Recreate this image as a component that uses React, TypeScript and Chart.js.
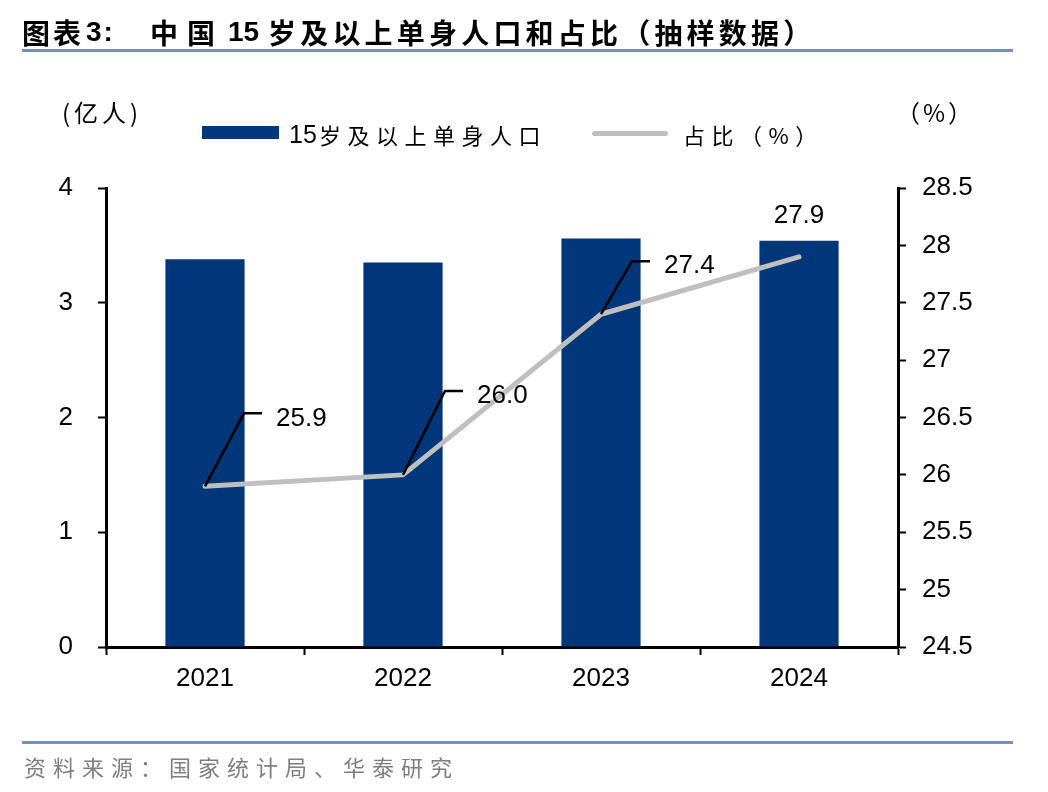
import React, { useEffect, useRef } from "react";
import { Chart, registerables } from "chart.js";

Chart.register(...registerables);

// ---- data ----
const categories = ["2021", "2022", "2023", "2024"];
const singlePopulation = [3.38, 3.35, 3.56, 3.54]; // 亿人
const singleShare = [25.9, 26.0, 27.4, 27.9]; // %
const leftAxisRange = [0, 4];
const leftAxisStep = 1;
const rightAxisRange = [24.5, 28.5];
const rightAxisStep = 0.5;
const seriesNames = ["15岁及以上单身人口", "占比（%）"];

// label leader layout (offsets relative to each point; null = plain label above)
const labelLeaders: ({ dx: number; dy: number; len: number } | null)[] = [
  { dx: 39, dy: -73, len: 18 },
  { dx: 42, dy: -84, len: 18 },
  { dx: 31, dy: -53, len: 18 },
  null,
];

const BAR_COLOR = "#00377a";
const LINE_COLOR = "#bfbfbf";
const RULE_COLOR = "#7391bc";
const LATIN = "'Liberation Sans', Arial, sans-serif";
const CJK = "'Noto Sans CJK SC', 'Noto Sans', sans-serif";

const leaderPlugin = {
  id: "leaderLabels",
  afterDatasetsDraw(chart: any) {
    const meta = chart.getDatasetMeta(1);
    const ctx = chart.ctx;
    ctx.save();
    ctx.font = `26px ${LATIN}`;
    ctx.fillStyle = "#000";
    ctx.strokeStyle = "#000";
    ctx.lineWidth = 2.5;
    ctx.lineCap = "butt";
    meta.data.forEach((pt: any, i: number) => {
      const text = singleShare[i].toFixed(1);
      const lead = labelLeaders[i];
      if (lead) {
        const ex = pt.x + lead.dx;
        const ey = pt.y + lead.dy;
        ctx.beginPath();
        ctx.moveTo(pt.x, pt.y);
        ctx.lineTo(ex, ey);
        ctx.lineTo(ex + lead.len, ey);
        ctx.stroke();
        ctx.textAlign = "left";
        ctx.textBaseline = "middle";
        ctx.fillText(text, ex + lead.len + 14, ey + 5);
      } else {
        ctx.textAlign = "center";
        ctx.textBaseline = "middle";
        ctx.fillText(text, pt.x, pt.y - 41);
      }
    });
    ctx.restore();
  },
};

type TProps = {
  x: number;
  cy: number;
  text: string;
  size: number;
  family: string;
  weight?: number;
  spacing?: number;
  color?: string;
};

function T({ x, cy, text, size, family, weight = 400, spacing = 0, color = "#000" }: TProps) {
  return (
    <div
      style={{
        position: "absolute",
        left: x,
        top: cy - size / 2,
        fontSize: size,
        lineHeight: `${size}px`,
        fontFamily: family,
        fontWeight: weight,
        letterSpacing: spacing,
        color,
        whiteSpace: "nowrap",
      }}
    >
      {text}
    </div>
  );
}

export default function App() {
  const ref = useRef<HTMLCanvasElement>(null);

  useEffect(() => {
    if (!ref.current) return;
    const chart = new Chart(ref.current, {
      type: "bar",
      data: {
        labels: categories,
        datasets: [
          {
            type: "bar",
            label: seriesNames[0],
            data: singlePopulation,
            backgroundColor: BAR_COLOR,
            yAxisID: "y",
            barPercentage: 0.4,
            categoryPercentage: 1,
            order: 2,
          } as any,
          {
            type: "line",
            label: seriesNames[1],
            data: singleShare,
            borderColor: LINE_COLOR,
            backgroundColor: LINE_COLOR,
            borderWidth: 5,
            pointRadius: 0,
            tension: 0,
            borderCapStyle: "round",
            borderJoinStyle: "round",
            yAxisID: "y1",
            order: 1,
          } as any,
        ],
      },
      options: {
        responsive: false,
        animation: false,
        devicePixelRatio: 1,
        layout: { padding: { top: 188, left: 0, right: 0, bottom: 0 } },
        plugins: {
          legend: { display: false },
          tooltip: { enabled: false },
          title: { display: false },
        },
        scales: {
          x: {
            grid: {
              display: true,
              drawOnChartArea: false,
              drawTicks: true,
              tickLength: 8,
              tickColor: "#000",
              tickWidth: 2,
              offset: true,
            },
            border: { display: true, color: "#000", width: 3 },
            ticks: {
              color: "#000",
              font: { family: LATIN, size: 26 },
              padding: 8,
            },
            afterFit: (s: any) => {
              s.height = 145;
            },
          },
          y: {
            position: "left",
            min: leftAxisRange[0],
            max: leftAxisRange[1],
            ticks: {
              stepSize: leftAxisStep,
              color: "#000",
              font: { family: LATIN, size: 26 },
              padding: 25,
            },
            grid: {
              drawOnChartArea: false,
              drawTicks: true,
              tickLength: 8,
              tickColor: "#000",
              tickWidth: 2,
            },
            border: { display: true, color: "#000", width: 3 },
            afterFit: (s: any) => {
              s.width = 106;
            },
          },
          y1: {
            position: "right",
            min: rightAxisRange[0],
            max: rightAxisRange[1],
            ticks: {
              stepSize: rightAxisStep,
              color: "#000",
              font: { family: LATIN, size: 26 },
              padding: 16,
              callback: (v: any) => String(Math.round(Number(v) * 10) / 10),
            },
            grid: {
              drawOnChartArea: false,
              drawTicks: true,
              tickLength: 8,
              tickColor: "#000",
              tickWidth: 2,
            },
            border: { display: true, color: "#000", width: 3 },
            afterFit: (s: any) => {
              s.width = 150;
            },
          },
        },
      } as any,
      plugins: [leaderPlugin],
    });
    return () => chart.destroy();
  }, []);

  return (
    <div
      style={{
        position: "absolute",
        left: 0,
        top: 0,
        width: 1048,
        height: 792,
        background: "#fff",
        overflow: "hidden",
      }}
    >
      <canvas
        ref={ref}
        width={1048}
        height={792}
        style={{ position: "absolute", left: 0, top: 0, width: 1048, height: 792 }}
      />
      {/* title */}
      <T x={22} cy={32} text="图表" size={28} family={CJK} weight={700} spacing={3} />
      <T x={86} cy={32} text="3:" size={28} family={LATIN} weight={700} spacing={2} />
      <T x={150} cy={32} text="中" size={28} family={CJK} weight={700} />
      <T x={187} cy={32} text="国" size={28} family={CJK} weight={700} />
      <T x={228} cy={32} text="15" size={28} family={LATIN} weight={700} />
      <T x={268} cy={32} text="岁及以上单身人口和占比（抽样数据）" size={28} family={CJK} weight={700} spacing={4.2} />
      <div style={{ position: "absolute", left: 22, top: 49, width: 991, height: 3, background: RULE_COLOR }} />

      {/* unit labels */}
      <T x={62} cy={112} text="(亿人)" size={24} family={CJK} spacing={4} />
      <T x={896} cy={112} text="（%）" size={24} family={CJK} spacing={3} />

      {/* legend */}
      <div style={{ position: "absolute", left: 202, top: 126, width: 77, height: 13, background: BAR_COLOR }} />
      <T x={289} cy={134} text="15" size={25} family={LATIN} />
      <T x={319} cy={134} text="岁及以上单身人口" size={22} family={CJK} spacing={6.5} />
      <div style={{ position: "absolute", left: 592, top: 131, width: 76, height: 5, borderRadius: 2.5, background: LINE_COLOR }} />
      <T x={683} cy={134} text={seriesNames[1]} size={22} family={CJK} spacing={6.5} />

      {/* footer */}
      <div style={{ position: "absolute", left: 22, top: 741, width: 991, height: 3, background: RULE_COLOR }} />
      <T x={24} cy={766} text="资料来源：国家统计局、华泰研究" size={22} family={CJK} spacing={7} color="#7f7f7f" />
    </div>
  );
}
